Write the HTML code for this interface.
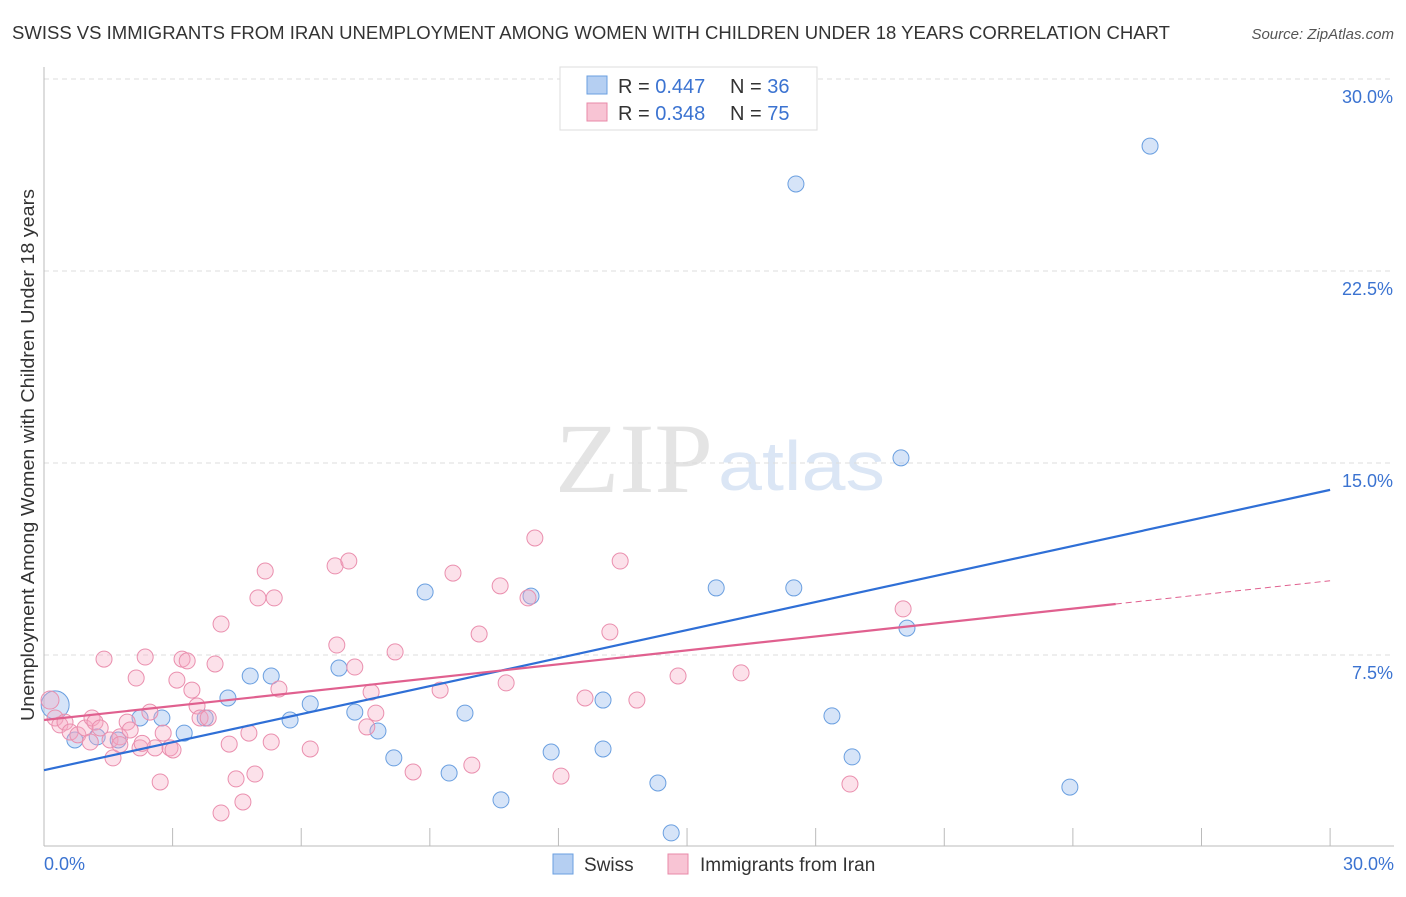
<!DOCTYPE html>
<html><head><meta charset="utf-8"><style>
body{margin:0;background:#fff;font-family:"Liberation Sans",sans-serif;}
</style></head><body>
<svg id="chart" width="1406" height="892" style="font-family:'Liberation Sans',sans-serif">
<text x="12" y="39" font-size="18" fill="#333" textLength="1158" lengthAdjust="spacingAndGlyphs">SWISS VS IMMIGRANTS FROM IRAN UNEMPLOYMENT AMONG WOMEN WITH CHILDREN UNDER 18 YEARS CORRELATION CHART</text>
<text x="1394" y="39" font-size="15" fill="#555" font-style="italic" text-anchor="end">Source: ZipAtlas.com</text>
<text x="555" y="492" font-size="100" fill="#e4e4e4" style="font-family:'Liberation Serif',serif" textLength="158" lengthAdjust="spacingAndGlyphs">ZIP</text>
<text x="718" y="490" font-size="70" fill="#dbe6f5" textLength="167" lengthAdjust="spacingAndGlyphs">atlas</text>
<g id="grid"></g>
<g id="axes"></g>
<g id="marks"></g>
<text transform="translate(34,455) rotate(-90)" font-size="18" fill="#333" text-anchor="middle" textLength="532" lengthAdjust="spacingAndGlyphs">Unemployment Among Women with Children Under 18 years</text>
<text x="44" y="870" font-size="18" fill="#3b73d1">0.0%</text>
<text x="1394" y="870" font-size="18" fill="#3b73d1" text-anchor="end">30.0%</text>
<g>
<rect x="560" y="67" width="257" height="63" fill="#fff" stroke="#ddd"/>
<rect x="587" y="76" width="20" height="18" fill="#b5cff2" stroke="#6a9fe0"/>
<rect x="587" y="103" width="20" height="18" fill="#f8c4d4" stroke="#e88aa8"/>
<text x="618" y="93" font-size="20" fill="#333">R = <tspan fill="#3b73d1">0.447</tspan></text>
<text x="730" y="93" font-size="20" fill="#333">N = <tspan fill="#3b73d1">36</tspan></text>
<text x="618" y="120" font-size="20" fill="#333">R = <tspan fill="#3b73d1">0.348</tspan></text>
<text x="730" y="120" font-size="20" fill="#333">N = <tspan fill="#3b73d1">75</tspan></text>
</g>
<g>
<rect x="553" y="854" width="20" height="20" fill="#b5cff2" stroke="#6a9fe0"/>
<text x="584" y="871" font-size="19" fill="#333">Swiss</text>
<rect x="668" y="854" width="20" height="20" fill="#f8c4d4" stroke="#e88aa8"/>
<text x="700" y="871" font-size="19" fill="#333">Immigrants from Iran</text>
</g>
</svg>
<script>
const yTicks=[7.5,15,22.5,30];
const yTickLabels=["7.5%","15.0%","22.5%","30.0%"];
const swissX=[0.26,0.72,1.24,1.73,2.24,2.75,3.27,3.76,4.29,4.81,5.30,5.74,6.21,6.88,7.25,7.79,8.16,8.89,9.45,9.82,10.66,11.36,11.83,13.04,13.04,14.32,14.63,15.68,17.49,17.54,18.38,18.85,19.99,20.13,23.93,25.80];
const swissY=[5.55,4.18,4.30,4.18,5.04,5.04,4.45,5.04,5.82,6.68,6.68,4.96,5.59,6.99,5.27,4.53,3.48,9.96,2.89,5.23,1.84,9.80,3.71,5.74,3.83,2.50,0.55,10.12,10.12,25.90,5.12,3.52,15.20,8.55,2.34,27.38];
const iranX=[0.14,0.26,0.37,0.49,0.61,0.79,0.96,1.12,1.19,1.31,1.40,1.54,1.61,1.77,1.94,2.01,2.15,2.24,2.36,2.47,2.59,2.71,2.78,2.94,3.01,3.10,3.22,3.34,3.45,3.57,3.64,3.83,3.99,4.13,4.13,4.32,4.48,4.64,4.78,4.92,4.99,5.16,5.30,5.37,5.48,6.21,6.79,6.83,7.11,7.25,7.53,7.63,7.74,8.19,8.61,9.24,9.54,9.98,10.15,10.64,10.78,11.29,11.45,12.06,12.62,13.20,13.44,13.83,14.79,16.26,18.80,20.04,1.77,1.08,2.29];
const iranY=[5.74,5.04,4.77,4.88,4.49,4.38,4.65,5.04,4.88,4.65,7.34,4.18,3.48,4.30,4.88,4.57,6.60,3.87,7.42,5.27,3.87,2.54,4.45,3.87,3.79,6.52,7.34,7.27,6.13,5.51,5.04,5.04,7.15,8.71,1.33,4.02,2.66,1.76,4.45,2.85,9.73,10.78,4.10,9.73,6.17,3.83,10.98,7.89,11.17,7.03,4.69,6.05,5.23,7.62,2.93,6.13,10.70,3.20,8.32,10.20,6.41,9.73,12.07,2.77,5.82,8.40,11.17,5.74,6.68,6.80,2.46,9.30,4.00,4.10,4.05];
const swissTrend=[3.0,13.95];
const iranTrend=[4.96,10.4];
const iranSolidEnd=25;
const NS="http://www.w3.org/2000/svg";
const X=v=>44+v*42.87, Y=v=>847-v*25.6;
function mk(tag,attrs,parent){const e=document.createElementNS(NS,tag);for(const k in attrs)e.setAttribute(k,attrs[k]);document.getElementById(parent).appendChild(e);return e;}
yTicks.forEach((t,i)=>{
 const g=mk('line',{x1:44,x2:1392,y1:Y(t),y2:Y(t),stroke:'#ddd','stroke-dasharray':'5,4'},'grid');
 
 
 const l=mk('text',{x:1393,y:Y(t)+24,'font-size':18,fill:'#3b73d1','text-anchor':'end'},'grid');
 l.textContent=yTickLabels[i];
 
 
});
const ax=mk('line',{x1:44,x2:44,y1:67,y2:846,stroke:'#bbb'},'axes');


const bx=mk('line',{x1:44,x2:1394,y1:846,y2:846,stroke:'#bbb'},'axes');


for(let i=1;i<=10;i++){
 const t=mk('line',{x1:X(i*3),x2:X(i*3),y1:828,y2:846,stroke:'#bbb'},'axes');
 
 
}
swissX.forEach((x,i)=>{
 const c=mk('circle',{cx:X(x),cy:Y(swissY[i]),r:i==0?14:8,fill:'rgba(164,196,240,0.45)',stroke:'#6a9fe0','stroke-width':1},'marks');
 
 
});
iranX.forEach((x,i)=>{
 const c=mk('circle',{cx:X(x),cy:Y(iranY[i]),r:i==0?9:8,fill:'rgba(245,170,195,0.35)',stroke:'#ea8fae','stroke-width':1},'marks');
 
 
});
const bl=mk('line',{x1:X(0),y1:Y(swissTrend[0]),x2:X(30),y2:Y(swissTrend[1]),stroke:'#2f6fd6','stroke-width':2.2},'marks');


const ym=iranTrend[0]+(iranTrend[1]-iranTrend[0])*iranSolidEnd/30;
const pl=mk('line',{x1:X(0),y1:Y(iranTrend[0]),x2:X(iranSolidEnd),y2:Y(ym),stroke:'#e0608f','stroke-width':2.2},'marks');


const pd=mk('line',{x1:X(iranSolidEnd),y1:Y(ym),x2:X(30),y2:Y(iranTrend[1]),stroke:'#e0608f','stroke-width':1,'stroke-dasharray':'6,4'},'marks');


</script>
</body></html>
